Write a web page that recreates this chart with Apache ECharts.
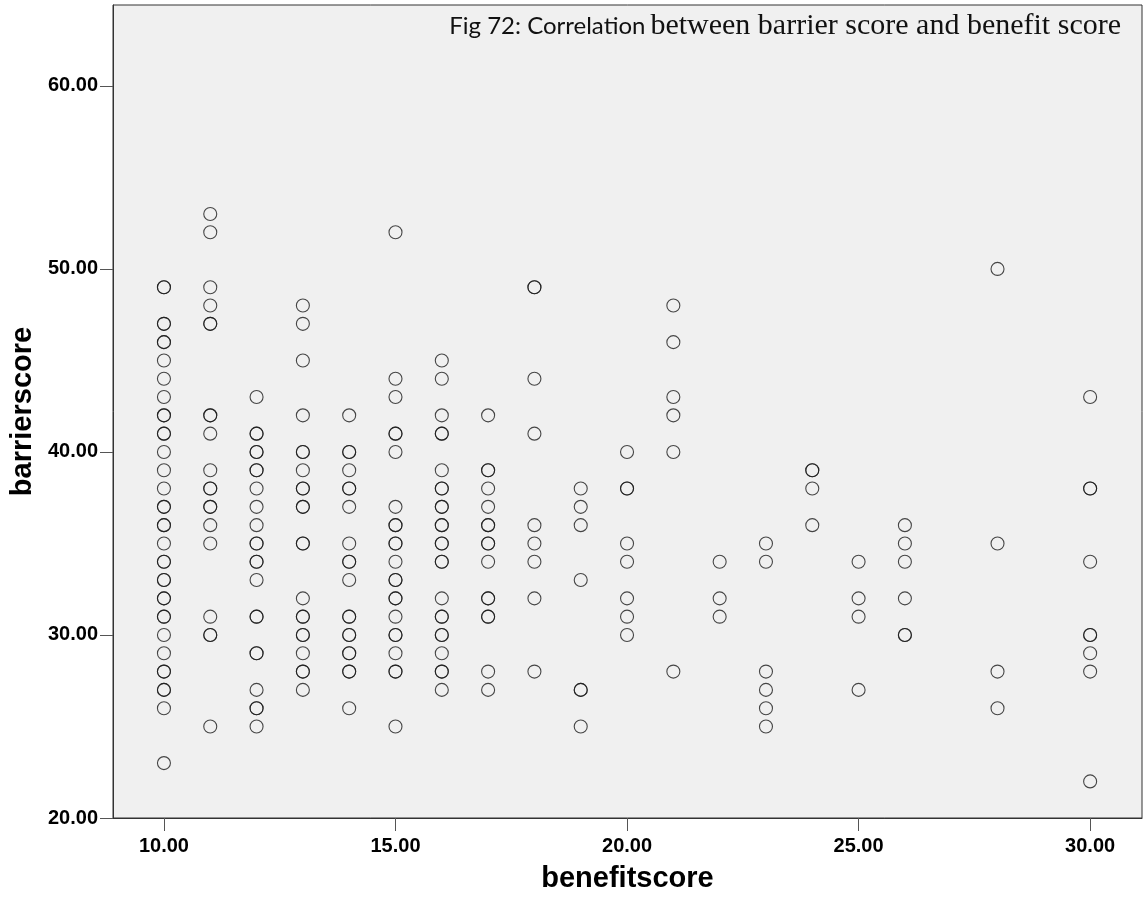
<!DOCTYPE html>
<html>
<head>
<meta charset="utf-8">
<script src="https://cdn.jsdelivr.net/npm/echarts@6/dist/echarts.min.js"></script>
<style>
  html, body { margin: 0; padding: 0; background: #fff; }
  #scatter { width: 1143px; height: 919px; }
</style>
</head>
<body>
<div id="scatter"></div>
<script>
// benefit score columns
let benefitScores = [10, 11, 12, 13, 14, 15, 16, 17, 18, 19, 20, 21, 22, 23, 24, 25, 26, 28, 30];
// barrier scores for each benefit score (repeated values = overlapping cases)
let barrier10 = [49, 49, 47, 47, 46, 46, 45, 44, 43, 42, 42, 41, 41, 40, 39, 38, 37, 37, 36, 36, 35, 34, 34, 33, 33, 32, 32, 31, 31, 30, 29, 28, 28, 27, 27, 26, 23];
let barrier11 = [53, 52, 49, 48, 47, 47, 42, 42, 41, 39, 38, 38, 37, 37, 36, 35, 31, 30, 30, 25];
let barrier12 = [43, 41, 41, 40, 40, 39, 39, 38, 37, 36, 35, 35, 34, 34, 33, 31, 31, 29, 29, 27, 26, 26, 25];
let barrier13 = [48, 47, 45, 42, 40, 40, 39, 38, 38, 37, 37, 35, 35, 32, 31, 31, 30, 30, 29, 28, 28, 27];
let barrier14 = [42, 40, 40, 39, 38, 38, 37, 35, 34, 34, 33, 31, 31, 30, 30, 29, 29, 28, 28, 26];
let barrier15 = [52, 44, 43, 41, 41, 40, 37, 36, 36, 35, 35, 34, 33, 33, 32, 32, 31, 30, 30, 29, 28, 28, 25];
let barrier16 = [45, 44, 42, 41, 41, 39, 38, 38, 37, 37, 36, 36, 35, 35, 34, 34, 32, 31, 31, 30, 30, 29, 28, 28, 27];
let barrier17 = [42, 39, 39, 38, 37, 36, 36, 35, 35, 34, 32, 32, 31, 31, 28, 27];
let barrier18 = [49, 49, 44, 41, 36, 35, 34, 32, 28];
let barrier19 = [38, 37, 36, 33, 27, 27, 25];
let barrier20 = [40, 38, 38, 35, 34, 32, 31, 30];
let barrier21 = [48, 46, 43, 42, 40, 28];
let barrier22 = [34, 32, 31];
let barrier23 = [35, 34, 28, 27, 26, 25];
let barrier24 = [39, 39, 38, 36];
let barrier25 = [34, 32, 31, 27];
let barrier26 = [36, 35, 34, 32, 30, 30];
let barrier28 = [50, 35, 28, 26];
let barrier30 = [43, 38, 38, 34, 30, 30, 29, 28, 22];
let barrierColumns = [barrier10, barrier11, barrier12, barrier13, barrier14, barrier15, barrier16, barrier17, barrier18, barrier19, barrier20, barrier21, barrier22, barrier23, barrier24, barrier25, barrier26, barrier28, barrier30];
// tick labels
let xTicks = [10, 15, 20, 25, 30];
let yTicks = [20, 30, 40, 50, 60];

let points = [];
benefitScores.forEach(function (b, i) {
  barrierColumns[i].forEach(function (v) {
    points.push([b, v]);
  });
});

let labelFont = {
  color: "#000",
  fontFamily: "Liberation Sans, Arial, sans-serif",
  fontWeight: "bold",
  fontSize: 20,
};

let chart = echarts.init(document.getElementById("scatter"), null, { renderer: "canvas" });

let option = {
  animation: false,
  backgroundColor: "#fff",
  title: {
    right: 17,
    top: 6,
    text: "{s|Fig 72: Correlation} {t|between barrier score and benefit score}",
    textStyle: {
      fontWeight: "normal",
      rich: {
        s: { fontFamily: "Lato, Open Sans, sans-serif", fontSize: 24, fontWeight: "normal", color: "#111" },
        t: { fontFamily: "Liberation Serif, Times New Roman, serif", fontSize: 30, fontWeight: "normal", color: "#111" },
      },
    },
  },
  grid: {
    left: 113,
    right: 1,
    top: 5,
    bottom: 101,
    show: true,
    backgroundColor: "#f0f0f0",
    borderColor: "#333",
    borderWidth: 1,
  },
  xAxis: {
    type: "value",
    min: 8.9,
    max: 31.12,
    name: "benefitscore",
    nameLocation: "middle",
    nameGap: 46,
    nameTextStyle: Object.assign({}, labelFont, { fontSize: 29 }),
    splitLine: { show: false },
    axisLine: { show: true, lineStyle: { color: "#333", width: 1 } },
    axisTick: {
      show: true,
      length: 13,
      lineStyle: { color: "#555" },
      customValues: xTicks,
    },
    axisLabel: Object.assign({}, labelFont, {
      margin: 18,
      customValues: xTicks,
      formatter: function (v) { return v.toFixed(2); },
    }),
  },
  yAxis: {
    type: "value",
    min: 20,
    max: 64.42,
    name: "barrierscore",
    nameLocation: "middle",
    nameGap: 69,
    nameTextStyle: Object.assign({}, labelFont, { fontSize: 29 }),
    splitLine: { show: false },
    axisLine: { show: true, lineStyle: { color: "#333", width: 1 } },
    axisTick: {
      show: true,
      length: 13,
      lineStyle: { color: "#555" },
      customValues: yTicks,
    },
    axisLabel: Object.assign({}, labelFont, {
      margin: 15,
      padding: [6, 0, 0, 0],
      customValues: yTicks,
      formatter: function (v) { return v.toFixed(2); },
    }),
  },
  series: [
    {
      type: "scatter",
      data: points,
      symbol: "circle",
      symbolSize: 13,
      itemStyle: {
        color: "rgba(0,0,0,0)",
        borderColor: "#1a1a1a",
        borderWidth: 1.1,
      },
    },
  ],
};

chart.setOption(option);
</script>
</body>
</html>
